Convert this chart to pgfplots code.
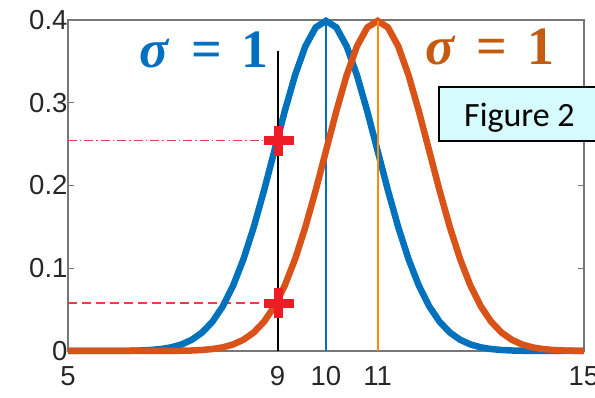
\documentclass[border=0pt]{standalone}
\usepackage[no-math]{fontspec}
\usepackage{pgfplots}
\pgfplotsset{compat=1.18}
\newfontfamily\arialfont{Liberation Sans}
\newfontfamily\calibrifont{Carlito}
\newfontfamily\sigfont{Liberation Serif}
\definecolor{mblue}{HTML}{0072BD}
\definecolor{morange}{HTML}{D95319}
\definecolor{tblue}{HTML}{0070C0}
\definecolor{torange}{HTML}{C55A11}
\definecolor{lorange}{HTML}{FF8C00}
\definecolor{pred}{HTML}{EE1C25}
\definecolor{dred}{HTML}{F03A48}
\definecolor{boxfill}{HTML}{D5FBFC}
\definecolor{axgray}{HTML}{777777}
\definecolor{lblgray}{HTML}{262626}
\newcommand{\sigmaone}{\sigfont\bfseries\itshape σ\upshape\hspace{22pt}=\hspace{20pt}1}
\begin{document}
\begin{tikzpicture}
\begin{axis}[
  scale only axis, width=516pt, height=331pt,
  xmin=5, xmax=15, ymin=0, ymax=0.4,
  clip=false,
  axis line style={draw=axgray, line width=1.3pt},
  every tick/.style={draw=axgray, line width=1.2pt},
  major tick length=6pt,
  xtick={5,9.06,10,11,15}, xticklabels={5,9,10,11,15},
  ytick={0,0.1,0.2,0.3,0.4}, yticklabels={0,0.1,0.2,0.3,0.4},
  xtick pos=bottom, ytick pos=both,
  tick align=inside,
  tick label style={font=\arialfont\fontsize{27.5}{30}\selectfont, text=lblgray},
  /pgf/number format/assume math mode=true,
  xticklabel style={yshift=-12pt},
  yticklabel style={xshift=3pt},
]
\addplot[dred, line width=1.2pt, dash pattern=on 9pt off 3pt on 1.5pt off 3pt] coordinates {(5,0.254) (9.06,0.254)};
\addplot[dred, line width=1.2pt, dash pattern=on 9pt off 5pt] coordinates {(5,0.058) (9.06,0.058)};
\addplot[mblue, line width=6.5pt] coordinates {
(5,0) (5.5,0.00002) (6,0.00013) (6.2,0.00029) (6.4,0.00061) (6.6,0.00123) (6.8,0.00238) (7,0.00443)
(7.2,0.00792) (7.4,0.01358) (7.6,0.02239) (7.8,0.03547) (8,0.05399) (8.2,0.07895) (8.4,0.11092)
(8.6,0.14973) (8.8,0.19419) (9,0.24197) (9.2,0.28969) (9.4,0.33322) (9.6,0.36827) (9.8,0.39104)
(10,0.39894) (10.2,0.39104) (10.4,0.36827) (10.6,0.33322) (10.8,0.28969) (11,0.24197) (11.2,0.19419)
(11.4,0.14973) (11.6,0.11092) (11.8,0.07895) (12,0.05399) (12.2,0.03547) (12.4,0.02239) (12.6,0.01358)
(12.8,0.00792) (13,0.00443) (13.2,0.00238) (13.4,0.00123) (13.6,0.00061) (13.8,0.00029) (14,0.00013)
(14.5,0.00002) (15,0)};
\addplot[mblue, line width=1.8pt] coordinates {(10,0) (10,0.399)};
\addplot[black, line width=2pt] coordinates {(9.065,0) (9.065,0.363)};
\addplot[morange, line width=6.5pt] coordinates {
(5,0) (6,0) (6.5,0.00002) (7,0.00013) (7.2,0.00029) (7.4,0.00061) (7.6,0.00123) (7.8,0.00238) (8,0.00443)
(8.2,0.00792) (8.4,0.01358) (8.6,0.02239) (8.8,0.03547) (9,0.05399) (9.2,0.07895) (9.4,0.11092)
(9.6,0.14973) (9.8,0.19419) (10,0.24197) (10.2,0.28969) (10.4,0.33322) (10.6,0.36827) (10.8,0.39104)
(11,0.39894) (11.2,0.39104) (11.4,0.36827) (11.6,0.33322) (11.8,0.28969) (12,0.24197) (12.2,0.19419)
(12.4,0.14973) (12.6,0.11092) (12.8,0.07895) (13,0.05399) (13.2,0.03547) (13.4,0.02239) (13.6,0.01358)
(13.8,0.00792) (14,0.00443) (14.2,0.00238) (14.4,0.00123) (14.6,0.00061) (14.8,0.00029) (15,0.00013)};
\addplot[lorange, line width=2pt] coordinates {(11,0) (11,0.399)};
\addplot[pred, only marks, mark=+, mark size=15pt, mark options={line width=9pt}] coordinates {(9.08,0.254) (9.08,0.058)};
\coordinate (s1) at (axis cs:6.39,0.343);
\coordinate (s2) at (axis cs:11.92,0.346);
\coordinate (b1) at (axis cs:12.19,0.254);
\coordinate (bt) at (axis cs:13.75,0.2816);
\end{axis}
\node[anchor=base west, text=tblue, inner sep=0pt, font=\fontsize{54}{56}\selectfont] at (s1) {\sigmaone};
\node[anchor=base west, text=torange, inner sep=0pt, font=\fontsize{54}{56}\selectfont] at (s2) {\sigmaone};
\fill[boxfill] (b1) rectangle ++(175pt,54pt);
\draw[black, line width=1.5pt] ([xshift=175pt,yshift=54pt]b1) -- ([yshift=54pt]b1) -- (b1) -- ([xshift=175pt]b1);
\node[font=\calibrifont\fontsize{34}{36}\selectfont, text=black] at (bt) {Figure 2};
\pgfresetboundingbox
\path[use as bounding box] (-68pt,-47pt) rectangle (527pt,351pt);
\end{tikzpicture}
\end{document}
